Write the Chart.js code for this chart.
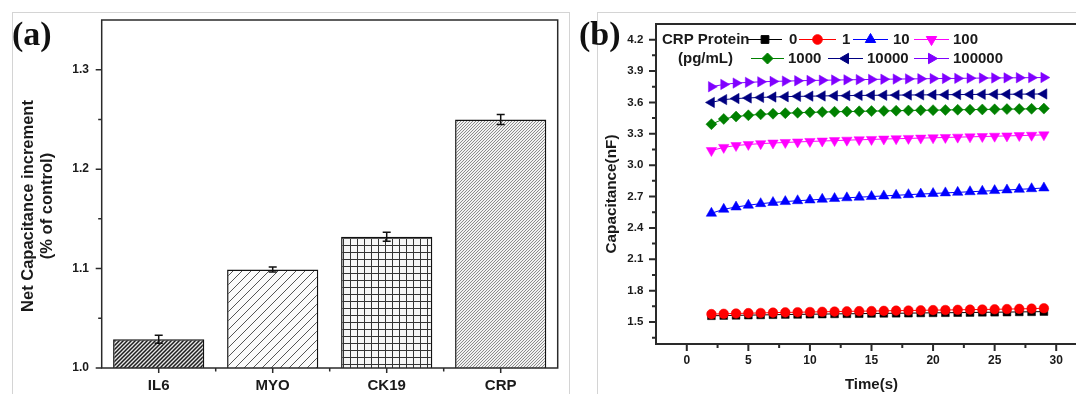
<!DOCTYPE html>
<html><head><meta charset="utf-8">
<script src="https://cdn.jsdelivr.net/npm/chart.js@4.4.0/dist/chart.umd.min.js"></script>
<style>
html,body{margin:0;padding:0;background:#fff;width:1076px;height:394px;overflow:hidden;}
#wrap{position:relative;width:1076px;height:394px;overflow:hidden;}
.frame{position:absolute;border:1px solid #d4d4d4;box-sizing:border-box;}
.plabel{position:absolute;font-family:'Liberation Serif','Times New Roman',serif;font-weight:bold;font-size:34px;line-height:34px;color:#111;}
canvas{position:absolute;left:0;top:0;}
</style></head><body>
<div id="wrap">
<div class="frame" style="left:12px;top:12px;width:558px;height:400px;"></div>
<div class="frame" style="left:597px;top:12px;width:500px;height:400px;"></div>
<div style="position:absolute;left:0;top:0;width:570px;height:394px"><canvas id="ca" width="570" height="394"></canvas></div>
<div style="position:absolute;left:580px;top:0;width:520px;height:394px"><canvas id="cb" width="520" height="394"></canvas></div>
<div class="plabel" style="left:12px;top:17px">(a)</div>
<div class="plabel" style="left:579px;top:17px">(b)</div>
</div>
<script>
// ---------- Panel (a) data ----------
const categories = ['IL6', 'MYO', 'CK19', 'CRP'];
const increment = [1.029, 1.099, 1.132, 1.250];
const incrementErr = [0.004, 0.0025, 0.0045, 0.005];
const yTicksA = [1.0, 1.1, 1.2, 1.3];
const yTitleA = ['Net Capacitance increment', '(% of control)'];

// ---------- Panel (b) data ----------
const times = [2,3,4,5,6,7,8,9,10,11,12,13,14,15,16,17,18,19,20,21,22,23,24,25,26,27,28,29];
const crpLevels = ['0', '1', '10', '100', '1000', '10000', '100000'];
const cap0 = [1.560,1.562,1.564,1.566,1.568,1.570,1.572,1.573,1.575,1.576,1.578,1.579,1.580,1.582,1.583,1.584,1.585,1.587,1.588,1.589,1.590,1.591,1.593,1.594,1.595,1.597,1.598,1.600];
const cap1 = [1.576,1.579,1.582,1.585,1.587,1.590,1.592,1.594,1.596,1.598,1.600,1.602,1.604,1.605,1.607,1.609,1.610,1.612,1.614,1.615,1.617,1.619,1.620,1.622,1.624,1.626,1.628,1.632];
const cap10 = [2.540,2.578,2.600,2.617,2.632,2.643,2.652,2.660,2.667,2.674,2.681,2.688,2.694,2.700,2.706,2.712,2.718,2.724,2.729,2.735,2.740,2.746,2.751,2.757,2.763,2.769,2.775,2.782];
const cap100 = [3.140,3.170,3.188,3.198,3.206,3.212,3.217,3.222,3.227,3.231,3.235,3.239,3.243,3.246,3.250,3.253,3.256,3.259,3.262,3.265,3.268,3.271,3.274,3.277,3.280,3.283,3.286,3.290];
const cap1000 = [3.392,3.442,3.465,3.477,3.486,3.492,3.497,3.501,3.505,3.508,3.511,3.513,3.515,3.517,3.519,3.521,3.523,3.525,3.526,3.528,3.530,3.531,3.533,3.534,3.536,3.537,3.539,3.541];
const cap10000 = [3.600,3.627,3.637,3.643,3.648,3.652,3.655,3.658,3.660,3.662,3.664,3.665,3.667,3.668,3.669,3.670,3.671,3.672,3.673,3.674,3.675,3.676,3.677,3.678,3.678,3.679,3.680,3.681];
const cap100000 = [3.750,3.772,3.785,3.792,3.797,3.801,3.804,3.807,3.810,3.812,3.814,3.816,3.818,3.820,3.822,3.823,3.825,3.826,3.828,3.829,3.830,3.832,3.833,3.834,3.835,3.836,3.837,3.838];
const yTicksB = [1.5, 1.8, 2.1, 2.4, 2.7, 3.0, 3.3, 3.6, 3.9, 4.2];
const xTicksB = [0, 5, 10, 15, 20, 25, 30];
const legendTitle = ['CRP Protein', '(pg/mL)'];
const yTitleB = 'Capacitance(nF)';
const xTitleB = 'Time(s)';

// ---------- styling ----------
const FONT = "'Liberation Sans', Arial, sans-serif";
Chart.defaults.font.family = FONT;
Chart.defaults.color = '#1a1a1a';
const AX = '#2a2a2a';

function hatch(size, lineColor, lineWidth, bg, grid) {
  const c = document.createElement('canvas'); c.width = size; c.height = size;
  const g = c.getContext('2d');
  g.fillStyle = bg; g.fillRect(0, 0, size, size);
  g.strokeStyle = lineColor; g.lineWidth = lineWidth; g.beginPath();
  if (grid) { g.moveTo(0.5, 0); g.lineTo(0.5, size); g.moveTo(0, 0.5); g.lineTo(size, 0.5); }
  else {
    g.moveTo(-1, size + 1); g.lineTo(size + 1, -1);
    g.moveTo(-1, 1); g.lineTo(1, -1);
    g.moveTo(size - 1, size + 1); g.lineTo(size + 1, size - 1);
  }
  g.stroke();
  return g.createPattern(c, 'repeat');
}
const barFills = [
  hatch(4, '#1e1e1e', 1.5, '#e6e6e6', false),
  hatch(9, '#555555', 1, '#fbfbfb', false),
  hatch(7, '#333333', 1, '#f6f6f6', true),
  hatch(3, '#808080', 0.9, '#f2f2f2', false)
];

function rotatedText(ctx, lines, xs, yc, font) {
  ctx.save();
  ctx.font = font; ctx.fillStyle = '#1a1a1a';
  ctx.textAlign = 'center'; ctx.textBaseline = 'middle';
  lines.forEach((t, i) => {
    ctx.save(); ctx.translate(xs[i], yc); ctx.rotate(-Math.PI / 2); ctx.fillText(t, 0, 0); ctx.restore();
  });
  ctx.restore();
}

const axesA = {
  id: 'axesA',
  afterDatasetsDraw(chart) {
    const {ctx, chartArea: a, scales: {x, y}} = chart;
    ctx.save();
    ctx.strokeStyle = AX; ctx.lineWidth = 1.5;
    ctx.strokeRect(a.left, a.top, a.right - a.left, a.bottom - a.top);
    ctx.beginPath();
    yTicksA.forEach(v => {
      const p = y.getPixelForValue(v); ctx.moveTo(a.left, p); ctx.lineTo(a.left - 6, p);
      const m = y.getPixelForValue(v + 0.05);
      if (m > a.top + 1) { ctx.moveTo(a.left, m); ctx.lineTo(a.left - 3.5, m); }
    });
    const w = x.getPixelForValue(1) - x.getPixelForValue(0);
    categories.forEach((c, i) => {
      const p = x.getPixelForValue(i);
      ctx.moveTo(p, a.bottom); ctx.lineTo(p, a.bottom + 5);
      if (i > 0) { ctx.moveTo(p - w / 2, a.bottom); ctx.lineTo(p - w / 2, a.bottom + 3.5); }
    });
    ctx.stroke();
    // error bars
    ctx.strokeStyle = '#111'; ctx.lineWidth = 1.5; ctx.beginPath();
    chart.getDatasetMeta(0).data.forEach((bar, i) => {
      const xc = bar.x;
      const y1 = y.getPixelForValue(increment[i] + incrementErr[i]);
      const y2 = y.getPixelForValue(increment[i] - incrementErr[i]);
      ctx.moveTo(xc, y1); ctx.lineTo(xc, y2);
      ctx.moveTo(xc - 4, y1); ctx.lineTo(xc + 4, y1);
      ctx.moveTo(xc - 4, y2); ctx.lineTo(xc + 4, y2);
    });
    ctx.stroke();
    ctx.restore();
    rotatedText(ctx, yTitleA, [28, 47.2], 206, 'bold 16.5px ' + FONT);
  }
};

new Chart(document.getElementById('ca'), {
  type: 'bar',
  data: {
    labels: categories,
    datasets: [{
      data: increment,
      backgroundColor: barFills,
      borderColor: '#111',
      borderWidth: 1.5,
      borderSkipped: false,
      categoryPercentage: 0.8,
      barPercentage: 1
    }]
  },
  options: {
    responsive: false, animation: false, events: [],
    layout: {padding: {top: 20, right: 12.3, left: 0, bottom: 0}},
    plugins: {legend: {display: false}, tooltip: {enabled: false}},
    scales: {
      x: {
        grid: {display: false, drawTicks: false}, border: {display: false},
        ticks: {font: {size: 15, weight: 'bold'}, color: '#1a1a1a', padding: 9},
        afterFit(s) { s.height = 26; }
      },
      y: {
        min: 1.0, max: 1.35,
        grid: {display: false, drawTicks: false}, border: {display: false},
        ticks: {font: {size: 12, weight: 'bold'}, color: '#1a1a1a', padding: 12.7, callback: v => Number(v).toFixed(1)},
        afterBuildTicks(s) { s.ticks = yTicksA.map(v => ({value: v})); },
        afterFit(s) { s.width = 101.7; }
      }
    }
  },
  plugins: [axesA]
});

// ---------- Panel (b) ----------
const series = [cap0, cap1, cap10, cap100, cap1000, cap10000, cap100000];
const colorsB = ['#000000', '#ff0000', '#0000ff', '#ff00ff', '#008000', '#000080', '#8000ff'];
const stylesB = [['rect', 0, 5.5], ['circle', 0, 4.8], ['triangle', 0, 6], ['triangle', 180, 6], ['rectRot', 0, 5.5], ['triangle', 270, 6], ['triangle', 90, 6]];
const OX = 580;
const legendSlots = [
  {x1: 748, x2: 782, y: 39.5, lx: 789},
  {x1: 799, x2: 836, y: 39.5, lx: 842},
  {x1: 853, x2: 888, y: 39.5, lx: 893},
  {x1: 914, x2: 949, y: 39.5, lx: 953},
  {x1: 751, x2: 784, y: 58.5, lx: 788},
  {x1: 828, x2: 863, y: 58.5, lx: 867},
  {x1: 914, x2: 949, y: 58.5, lx: 953}
];

const axesB = {
  id: 'axesB',
  afterDraw(chart) {
    const {ctx, chartArea: a, scales: {x, y}} = chart;
    ctx.save();
    ctx.strokeStyle = AX; ctx.lineWidth = 2;
    ctx.strokeRect(a.left, a.top, a.right - a.left, a.bottom - a.top);
    ctx.beginPath();
    yTicksB.forEach(v => {
      const p = y.getPixelForValue(v); ctx.moveTo(a.left, p); ctx.lineTo(a.left - 7, p);
      const m = y.getPixelForValue(v - 0.15);
      if (m < a.bottom - 1) { ctx.moveTo(a.left, m); ctx.lineTo(a.left - 4, m); }
    });
    xTicksB.forEach(v => {
      const p = x.getPixelForValue(v); ctx.moveTo(p, a.bottom); ctx.lineTo(p, a.bottom + 7);
      const m = x.getPixelForValue(v + 2.5);
      if (m < a.right - 1) { ctx.moveTo(m, a.bottom); ctx.lineTo(m, a.bottom + 4); }
    });
    ctx.stroke();
    // legend
    ctx.font = 'bold 15px ' + FONT;
    ctx.fillStyle = '#1a1a1a'; ctx.textBaseline = 'middle'; ctx.textAlign = 'left';
    ctx.fillText(legendTitle[0], 662 - OX, 39.5);
    ctx.fillText(legendTitle[1], 678 - OX, 58.5);
    legendSlots.forEach((sl, i) => {
      ctx.strokeStyle = colorsB[i]; ctx.fillStyle = colorsB[i]; ctx.lineWidth = 1;
      ctx.beginPath(); ctx.moveTo(sl.x1 - OX, sl.y); ctx.lineTo(sl.x2 - OX, sl.y); ctx.stroke();
      Chart.helpers.drawPoint(ctx, {pointStyle: stylesB[i][0], rotation: stylesB[i][1], radius: stylesB[i][2], borderWidth: 0.5},
        (sl.x1 + sl.x2) / 2 - OX, sl.y);
      ctx.fillStyle = '#1a1a1a';
      ctx.fillText(crpLevels[i], sl.lx - OX, sl.y);
    });
    ctx.restore();
    rotatedText(ctx, [yTitleB], [611.5 - OX], 194, 'bold 15.3px ' + FONT);
  }
};

new Chart(document.getElementById('cb'), {
  type: 'line',
  data: {
    datasets: series.map((s, i) => ({
      label: crpLevels[i],
      data: times.map((t, j) => ({x: t, y: s[j]})),
      borderColor: colorsB[i], backgroundColor: colorsB[i],
      pointBackgroundColor: colorsB[i], pointBorderColor: colorsB[i],
      borderWidth: 1, pointBorderWidth: 0.5,
      pointStyle: stylesB[i][0], pointRotation: stylesB[i][1], pointRadius: stylesB[i][2],
      tension: 0, fill: false, order: i === 0 ? 1 : 0
    }))
  },
  options: {
    responsive: false, animation: false, events: [],
    layout: {padding: {top: 24, right: 13, left: 0, bottom: 0}},
    plugins: {legend: {display: false}, tooltip: {enabled: false}},
    scales: {
      x: {
        type: 'linear', min: -2.5, max: 32.5,
        grid: {display: false, drawTicks: false}, border: {display: false},
        ticks: {font: {size: 12, weight: 'bold'}, color: '#1a1a1a', padding: 9.4},
        afterBuildTicks(s) { s.ticks = xTicksB.map(v => ({value: v})); },
        afterFit(s) { s.height = 50; },
        title: {display: true, text: xTitleB, font: {size: 15, weight: 'bold', lineHeight: 1.2}, color: '#1a1a1a', padding: {top: 0, bottom: 0}}
      },
      y: {
        min: 1.29, max: 4.35,
        grid: {display: false, drawTicks: false}, border: {display: false},
        ticks: {font: {size: 11.5, weight: 'bold'}, color: '#1a1a1a', padding: 12.7, callback: v => Number(v).toFixed(1)},
        afterBuildTicks(s) { s.ticks = yTicksB.map(v => ({value: v})); },
        afterFit(s) { s.width = 76; }
      }
    }
  },
  plugins: [axesB]
});
</script>
</body></html>
